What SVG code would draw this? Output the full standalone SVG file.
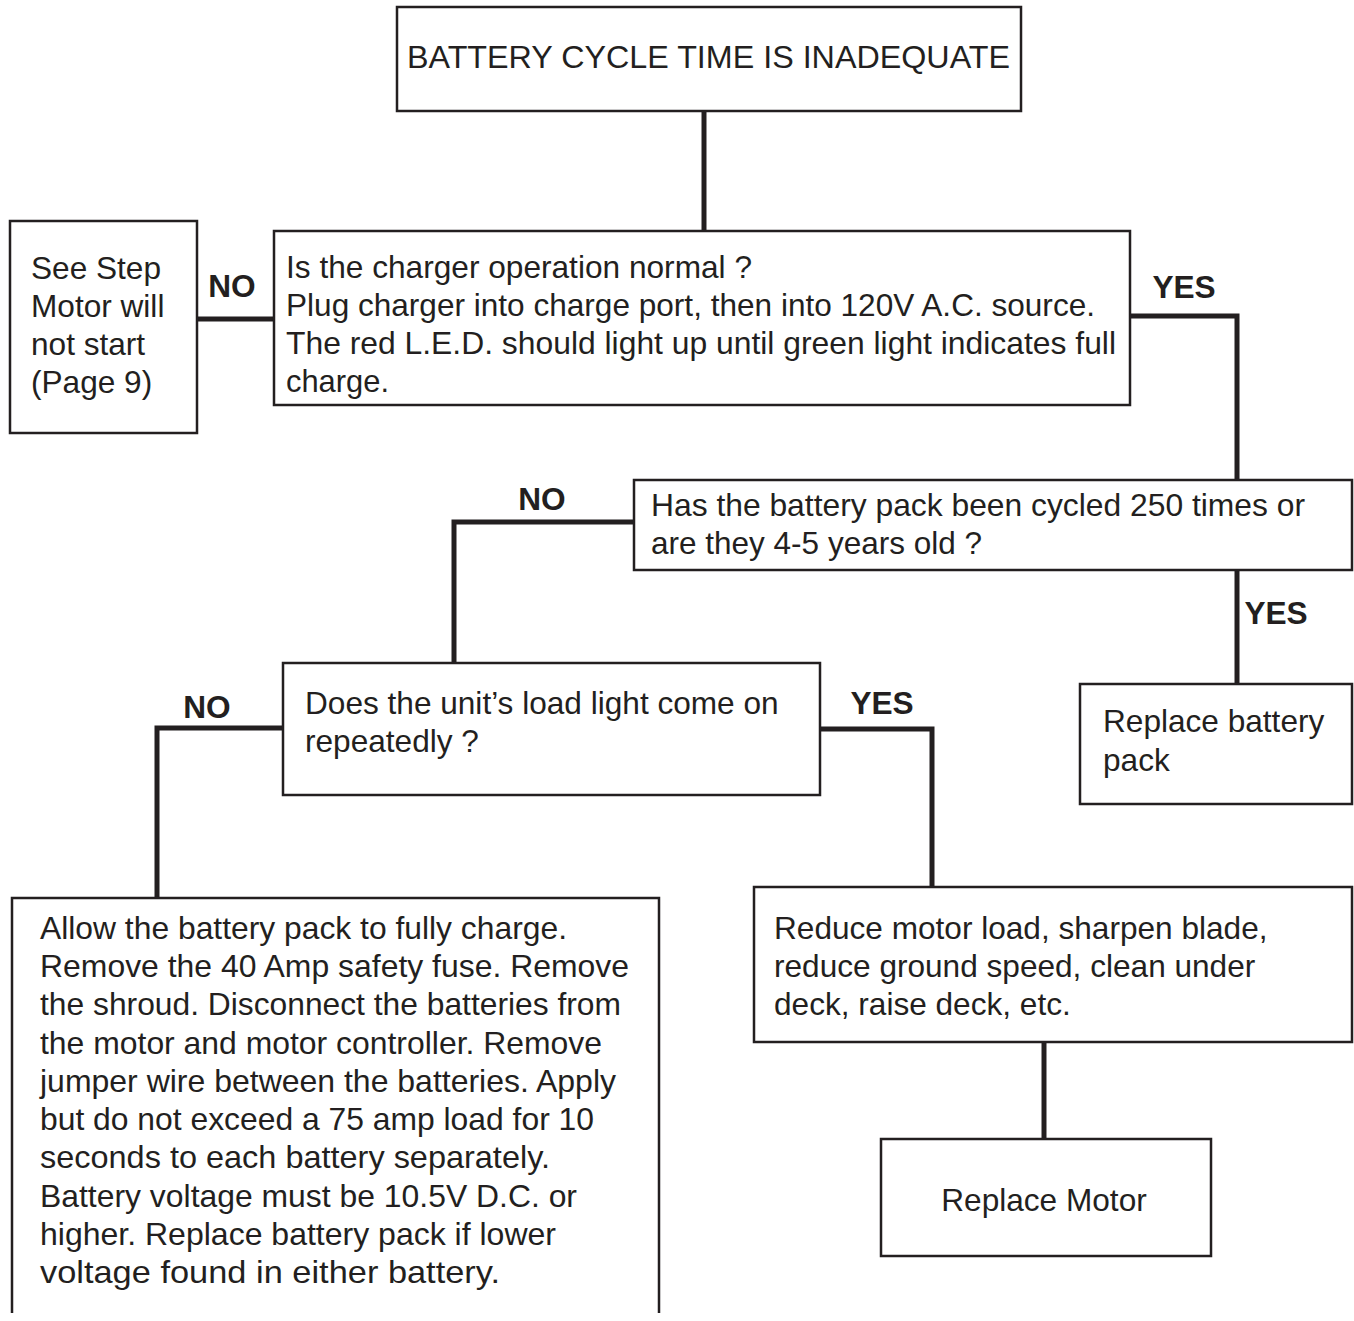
<svg xmlns="http://www.w3.org/2000/svg" width="1354" height="1321" viewBox="0 0 1354 1321">
<style>
.box{fill:#fff;stroke:#231f20;stroke-width:2.5}
.con{fill:none;stroke:#231f20;stroke-width:5;stroke-linecap:butt;stroke-linejoin:miter}
text{font-family:"Liberation Sans",Arial,Helvetica,sans-serif;font-size:31.6px;fill:#231f20}
.lbl{font-weight:bold;text-anchor:middle}
.c{text-anchor:middle}
</style>
<rect width="1354" height="1321" fill="#fff"/>
<g id="connectors">
<path class="con" d="M704,111 V231"/>
<path class="con" d="M197,319 H274"/>
<path class="con" d="M1130,316 H1237 V480"/>
<path class="con" d="M634,522 H454 V663"/>
<path class="con" d="M1237,570 V684"/>
<path class="con" d="M283,728 H157 V898"/>
<path class="con" d="M820,729 H932 V887"/>
<path class="con" d="M1044,1042 V1139"/>
<text class="lbl" x="232" y="297">NO</text>
<text class="lbl" x="1184" y="298">YES</text>
<text class="lbl" x="542" y="510">NO</text>
<text class="lbl" x="1276" y="624">YES</text>
<text class="lbl" x="207" y="718">NO</text>
<text class="lbl" x="882" y="714">YES</text>
</g>
<g id="start">
<rect class="box" x="397" y="7" width="624" height="104"/>
<text x="407" y="68" textLength="603" lengthAdjust="spacingAndGlyphs">BATTERY CYCLE TIME IS INADEQUATE</text>
</g>
<g id="see-step">
<rect class="box" x="10" y="221" width="187" height="212"/>
<text x="31" y="279">See Step</text>
<text x="31" y="317">Motor will</text>
<text x="31" y="355">not start</text>
<text x="31" y="393">(Page 9)</text>
</g>
<g id="charger">
<rect class="box" x="274" y="231" width="856" height="174"/>
<text x="286" y="278" textLength="466" lengthAdjust="spacingAndGlyphs">Is the charger operation normal ?</text>
<text x="286" y="316" textLength="809" lengthAdjust="spacingAndGlyphs">Plug charger into charge port, then into 120V A.C. source.</text>
<text x="286" y="354" textLength="830" lengthAdjust="spacingAndGlyphs">The red L.E.D. should light up until green light indicates full</text>
<text x="286" y="392" textLength="103" lengthAdjust="spacingAndGlyphs">charge.</text>
</g>
<g id="cycled">
<rect class="box" x="634" y="480" width="718" height="90"/>
<text x="651" y="516" textLength="654" lengthAdjust="spacingAndGlyphs">Has the battery pack been cycled 250 times or</text>
<text x="651" y="554" textLength="331" lengthAdjust="spacingAndGlyphs">are they 4-5 years old ?</text>
</g>
<g id="replace-battery">
<rect class="box" x="1080" y="684" width="272" height="120"/>
<text x="1103" y="732">Replace battery</text>
<text x="1103" y="771">pack</text>
</g>
<g id="load-light">
<rect class="box" x="283" y="663" width="537" height="132"/>
<text x="305" y="714">Does the unit’s load light come on</text>
<text x="305" y="752">repeatedly ?</text>
</g>
<g id="allow-charge">
<path class="box" d="M12,1313 V898 H659 V1313"/>
<text x="40" y="939" textLength="527" lengthAdjust="spacingAndGlyphs">Allow the battery pack to fully charge.</text>
<text x="40" y="977" textLength="589" lengthAdjust="spacingAndGlyphs">Remove the 40 Amp safety fuse. Remove</text>
<text x="40" y="1015" textLength="581" lengthAdjust="spacingAndGlyphs">the shroud. Disconnect the batteries from</text>
<text x="40" y="1054" textLength="562" lengthAdjust="spacingAndGlyphs">the motor and motor controller. Remove</text>
<text x="40" y="1092" textLength="576" lengthAdjust="spacingAndGlyphs">jumper wire between the batteries. Apply</text>
<text x="40" y="1130" textLength="554" lengthAdjust="spacingAndGlyphs">but do not exceed a 75 amp load for 10</text>
<text x="40" y="1168" textLength="510" lengthAdjust="spacingAndGlyphs">seconds to each battery separately.</text>
<text x="40" y="1207" textLength="537" lengthAdjust="spacingAndGlyphs">Battery voltage must be 10.5V D.C. or</text>
<text x="40" y="1245" textLength="516" lengthAdjust="spacingAndGlyphs">higher. Replace battery pack if lower</text>
<text x="40" y="1283" textLength="460" lengthAdjust="spacingAndGlyphs">voltage found in either battery.</text>
</g>
<g id="reduce-load">
<rect class="box" x="754" y="887" width="598" height="155"/>
<text x="774" y="939">Reduce motor load, sharpen blade,</text>
<text x="774" y="977">reduce ground speed, clean under</text>
<text x="774" y="1015">deck, raise deck, etc.</text>
</g>
<g id="replace-motor">
<rect class="box" x="881" y="1139" width="330" height="117"/>
<text class="c" x="1044" y="1211">Replace Motor</text>
</g>
</svg>
